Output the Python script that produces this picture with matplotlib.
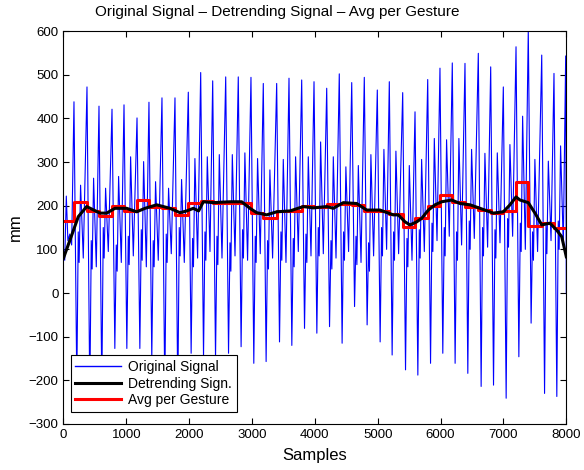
import numpy as np
import matplotlib
matplotlib.use("Agg")
import matplotlib.pyplot as plt

plt.rcParams['font.family'] = ['Liberation Sans', 'DejaVu Sans']

# sample index of every big peak (one per gesture)
peak_x = [167, 374, 565, 772, 963, 1170, 1360, 1567, 1774, 1986,
          2183, 2374, 2581, 2781, 2983, 3179, 3392, 3588, 3790, 3986,
          4188, 4388, 4586, 4786, 4993, 5184, 5397, 5593, 5795, 5990,
          6186, 6388, 6600, 6797, 6998, 7200, 7395, 7609, 7804, 7990]
peak_y = [438, 472, 428, 421, 431, 401, 437, 447, 447, 460,
          505, 486, 495, 495, 494, 480, 480, 492, 488, 484,
          469, 502, 482, 494, 465, 484, 459, 415, 489, 515,
          527, 526, 549, 518, 472, 564, 603, 545, 503, 543]
trough_y = [-210, -240, -220, -127, -127, -127, -150, -230, -240, -138,
            -146, -150, -138, -123, -161, -157, -112, -120, -81, -92,
            -77, -115, -31, -73, -112, -142, -176, -188, -161, -138,
            -161, -184, -214, -211, -241, -146, -69, -230, -237]
shoulder_y = [140, 120, 150, 110, 130, 145, 120, 135, 150, 125,
              140, 130, 115, 145, 130, 120, 140, 125, 135, 150,
              120, 140, 130, 115, 150, 140, 125, 145, 160, 150,
              140, 165, 150, 145, 170, 160, 140, 155, 165]
notch_y = [70, 55, 80, 50, 65, 75, 60, 70, 85, 60,
           75, 65, 50, 80, 70, 55, 75, 60, 70, 85,
           55, 75, 65, 50, 85, 75, 60, 80, 95, 85,
           75, 100, 85, 80, 105, 95, 75, 90, 100]
second_y = [247, 263, 240, 267, 312, 301, 255, 240, 260, 308,
            312, 317, 317, 321, 308, 282, 306, 312, 312, 346,
            312, 289, 292, 317, 329, 325, 292, 306, 354, 351,
            354, 329, 320, 321, 340, 405, 306, 302, 337]
dip_y = [80, 60, 95, 70, 85, 60, 75, 90, 70, 80,
         95, 80, 85, 75, 90, 80, 70, 95, 85, 90,
         80, 95, 70, 85, 100, 90, 75, 95, 120, 130,
         110, 125, 105, 115, 130, 100, 95, 120, 110]
start_x = [0, 20, 45, 70, 100, 130]
start_y = [100, 75, 222, 120, 135, 110]
end_x = [8000]
end_y = [0]

# detrended signal
trend_x = [0, 100, 236, 369, 581, 687, 819, 1005, 1164, 1297, 1483, 1694, 1854,
           1960, 2066, 2150, 2225, 2384, 2649, 2835, 2967, 3074, 3233, 3392,
           3604, 3816, 3975, 4188, 4293, 4452, 4665, 4824, 5036, 5247, 5327,
           5434, 5513, 5620, 5699, 5805, 5911, 6017, 6177, 6309, 6468, 6627,
           6839, 6998, 7104, 7200, 7263, 7395, 7502, 7609, 7740, 7847, 7927, 8000]
trend_y = [80, 120, 175, 198, 183, 183, 194, 194, 186, 194, 202, 194, 184,
           188, 194, 188, 209, 207, 209, 209, 194, 184, 179, 186,
           188, 198, 195, 198, 194, 207, 205, 190, 190, 179, 179,
           163, 156, 163, 171, 190, 202, 209, 213, 205, 202, 194,
           183, 186, 202, 220, 213, 207, 183, 156, 160, 144, 129, 83]

# average per gesture (segments split at the peaks)
avg_y = [165, 208, 188, 177, 200, 188, 213, 198, 194, 179,
         207, 211, 207, 207, 207, 183, 171, 188, 188, 200,
         196, 205, 204, 202, 188, 188, 180, 152, 172, 200,
         224, 208, 196, 190, 183, 188, 255, 153, 161, 150, 150]

# samples after the peak: trough, shoulder, notch, secondary peak, dip
phase = [45, 68, 82, 105, 148]

sig_x = list(start_x)
sig_y = list(start_y)
for i in range(len(peak_x)):
    sig_x.append(peak_x[i])
    sig_y.append(peak_y[i])
    if i < len(trough_y):
        sig_x += [peak_x[i] + p for p in phase]
        sig_y += [trough_y[i], shoulder_y[i], notch_y[i], second_y[i], dip_y[i]]
sig_x += end_x
sig_y += end_y

edges = [0] + peak_x + [8000]
levels = avg_y + [avg_y[-1]]

fig = plt.figure(figsize=(5.84, 4.70), dpi=100)
ax = fig.add_axes([0.1087, 0.0979, 0.861, 0.836])

h1, = ax.plot(sig_x, sig_y, color='blue', lw=0.8)
h3, = ax.step(edges, levels, where='post', color='red', lw=2.2)
h2, = ax.plot(trend_x, trend_y, color='black', lw=2.2)

ax.set_xlim(0, 8000)
ax.set_ylim(-300, 600)
ax.set_xticks(np.arange(0, 8001, 1000))
ax.set_yticks(np.arange(-300, 601, 100))
ax.tick_params(direction='in', top=True, right=True, labelsize=9.5, length=4)
for s in ax.spines.values():
    s.set_linewidth(0.8)

ax.set_xlabel('Samples', fontsize=12, labelpad=5)
ax.set_ylabel('mm', fontsize=12, labelpad=4)
ax.set_title('Original Signal \u2013 Detrending Signal \u2013 Avg per Gesture',
             fontsize=11, x=0.425, pad=11)

leg = ax.legend([h1, h2, h3], ['Original Signal', 'Detrending Sign.', 'Avg per Gesture'],
                loc='lower left', bbox_to_anchor=(0.014, 0.03), borderaxespad=0,
                fontsize=10, fancybox=False, framealpha=1, edgecolor='black',
                handlelength=3.3, handletextpad=0.5, labelspacing=0.2, borderpad=0.35)
leg.get_frame().set_linewidth(0.8)
leg.get_lines()[0].set_linewidth(1.0)

fig.savefig('out.png', dpi=100)
